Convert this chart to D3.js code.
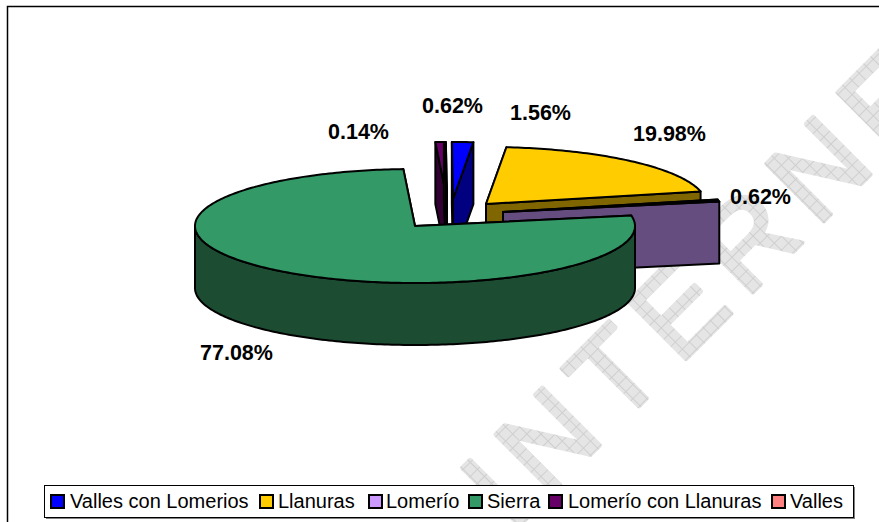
<!DOCTYPE html>
<html><head><meta charset="utf-8">
<script src="https://cdn.jsdelivr.net/npm/d3@7/dist/d3.min.js"></script>
<style>html,body{margin:0;padding:0;background:#fff;overflow:hidden}svg{display:block}text{font-family:"Liberation Sans",Arial,sans-serif}</style>
</head><body><svg id="c" width="879" height="522"></svg>
<script>
const categories = ["Valles con Lomerios","Llanuras","Lomerío","Sierra","Lomerío con Llanuras","Valles"];
const values = [1.56,19.98,0.62,77.08,0.62,0.14];
const labelTexts = ["1.56%","19.98%","0.62%","77.08%","0.62%","0.14%"];
const topColors = ["#0000FF","#FFCC00","#CC99FF","#339966","#660066","#FF8080"];
const sideColors = ["#000080","#806600","#664D80","#1C4D33","#330033","#804040"];
const apexes = [[453,199],[486,204],[503,212],[415,226],[447,199],[447,199]];
const labelPos = [[510,120],[633,141],[730,204],[200,360],[422,113],[328,139]];
const legendPos = [[51,70],[260,278],[369,386],[469,487],[549,568],[772,790]];
const drawOrder = [4,5,0,1,2,3];
const watermark = "INTERNET";

const svg = d3.select("#c");
const rx = 220, ry = 57, depth = 62, rad = Math.PI/180;
const defs = svg.append("defs");
const pat = defs.append("pattern").attr("id","hatch").attr("width",10).attr("height",10).attr("patternUnits","userSpaceOnUse");
pat.append("rect").attr("width",10).attr("height",10).attr("fill","#e5e5e5");
pat.append("path").attr("d","M0 .5H10M.5 0V10").attr("stroke","#cfcfcf").attr("stroke-width",1);

svg.append("text").attr("transform","translate(512,533) rotate(-45)")
  .attr("font-size",118).attr("letter-spacing",15.5).attr("fill","url(#hatch)")
  .attr("stroke","url(#hatch)").attr("stroke-width",4.5).attr("stroke-linejoin","round").text(watermark);

svg.append("path").attr("d","M7.5 522V6.5H879").attr("fill","none").attr("stroke","#000").attr("stroke-width",1.5);

const arcs = d3.pie().sort(null).startAngle(-0.3*rad).endAngle(359.7*rad)(values);
const line = d3.line();
function pt(i,a,dz){const [ax,ay]=apexes[i];return [ax+rx*Math.sin(a),ay-ry*Math.cos(a)+(dz||0)];}
function arcPts(i,a0,a1,dz){const n=Math.max(2,Math.ceil((a1-a0)/rad));return d3.range(n+1).map(k=>pt(i,a0+(a1-a0)*k/n,dz));}
const g = svg.append("g").attr("stroke","#000").attr("stroke-width",2).attr("stroke-linejoin","round");
drawOrder.forEach(i=>{
  const d=arcs[i],[ax,ay]=apexes[i];
  const face=a=>{const p=pt(i,a);return line([[ax,ay],p,[p[0],p[1]+depth],[ax,ay+depth]])+"Z";};
  g.append("path").attr("d",face(d.startAngle)).attr("fill",sideColors[i]);
  g.append("path").attr("d",face(d.endAngle)).attr("fill",sideColors[i]);
  const f0=Math.max(d.startAngle,90*rad),f1=Math.min(d.endAngle,270*rad);
  if(f1>f0){
    const a=arcPts(i,f0,f1,0),b=arcPts(i,f0,f1,depth).reverse();
    g.append("path").attr("d",line(a.concat(b))+"Z").attr("fill",sideColors[i]);
  }
  g.append("path").attr("d",line([[ax,ay]].concat(arcPts(i,d.startAngle,d.endAngle,0)))+"Z").attr("fill",topColors[i]);
});

svg.append("g").selectAll("text").data(labelTexts).join("text")
  .attr("x",(d,i)=>labelPos[i][0]).attr("y",(d,i)=>labelPos[i][1])
  .attr("font-size",21.5).attr("font-weight","bold").attr("fill","#000").text(d=>d);

svg.append("rect").attr("x",46).attr("y",487).attr("width",809).attr("height",32).attr("fill","#808080");
svg.append("rect").attr("x",44.5).attr("y",485.5).attr("width",809).attr("height",32).attr("fill","#fff").attr("stroke","#000").attr("stroke-width",1);
const lg=svg.append("g").selectAll("g").data(categories).join("g");
lg.append("rect").attr("x",(d,i)=>legendPos[i][0]).attr("y",495).attr("width",13).attr("height",13)
  .attr("fill",(d,i)=>topColors[i]).attr("stroke","#000").attr("stroke-width",2);
lg.append("text").attr("x",(d,i)=>legendPos[i][1]).attr("y",508).attr("font-size",20).attr("fill","#000").text(d=>d);
</script></body></html>
